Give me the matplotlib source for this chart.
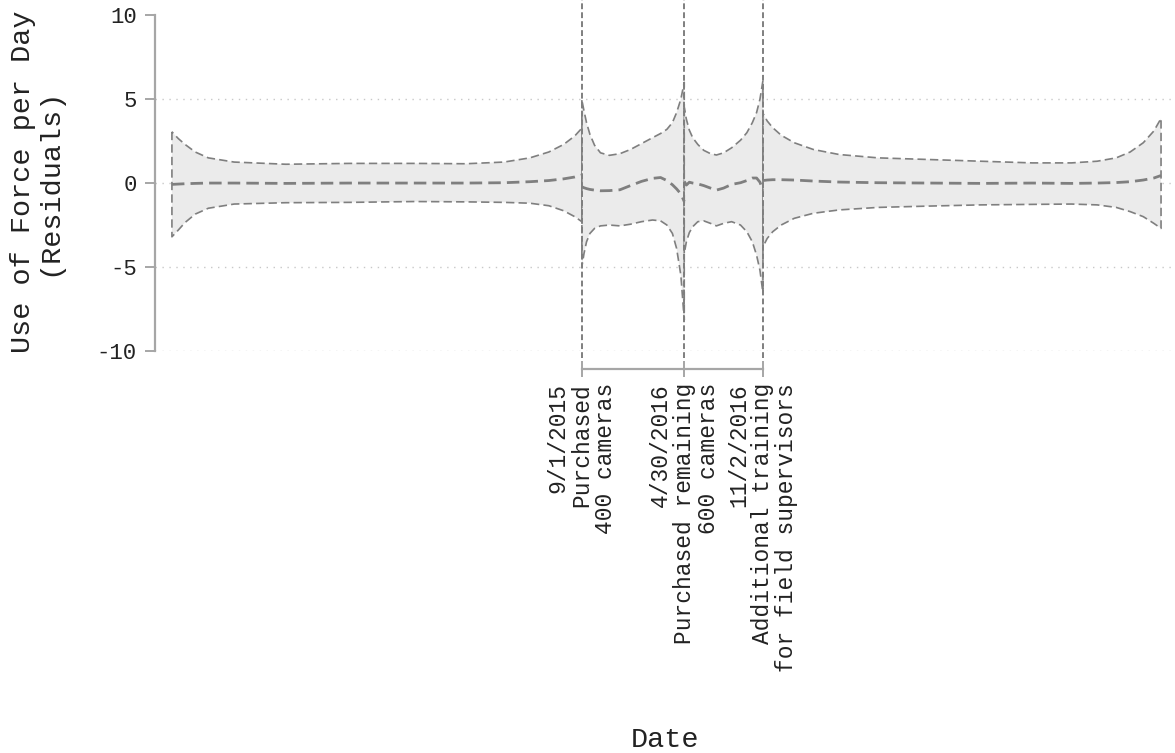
import numpy as np
import pandas as pd
import matplotlib
matplotlib.use("Agg")
import matplotlib.pyplot as plt
import matplotlib.dates as mdates

plt.rcParams['font.family'] = ['Liberation Mono', 'DejaVu Sans Mono']

# Residual band: one segment per period between interventions
seg1_dates = ['2013-01-05', '2013-01-20', '2013-02-05', '2013-03-01', '2013-04-01',
              '2013-06-01', '2013-10-01', '2014-03-01', '2014-08-01', '2014-12-01',
              '2015-03-01', '2015-05-01', '2015-06-15', '2015-07-20', '2015-08-15',
              '2015-09-01']
seg1_upper = [3.05, 2.65, 2.3, 1.85, 1.5, 1.25, 1.12, 1.17, 1.17, 1.15,
              1.25, 1.5, 1.85, 2.3, 2.8, 3.27]
seg1_mid = [-0.08, -0.06, -0.04, -0.02, 0.0, 0.0, -0.02, 0.0, 0.0, 0.0,
            0.02, 0.08, 0.15, 0.25, 0.36, 0.48]
seg1_lower = [-3.2, -2.8, -2.35, -1.85, -1.5, -1.25, -1.17, -1.15, -1.1, -1.12,
              -1.15, -1.2, -1.35, -1.65, -2.0, -2.3]

seg2_dates = ['2015-09-01', '2015-09-06', '2015-09-12', '2015-09-20', '2015-10-01',
              '2015-10-15', '2015-11-05', '2015-11-30', '2015-12-25', '2016-01-20',
              '2016-02-15', '2016-03-05', '2016-03-20', '2016-04-02', '2016-04-12',
              '2016-04-22', '2016-04-30']
seg2_upper = [4.94, 4.3, 3.6, 2.9, 2.25, 1.8, 1.65, 1.75, 2.0, 2.35,
              2.7, 2.95, 3.2, 3.6, 4.2, 5.0, 6.0]
seg2_mid = [-0.22, -0.28, -0.33, -0.38, -0.42, -0.46, -0.45, -0.4, -0.15, 0.1,
            0.28, 0.33, 0.15, -0.1, -0.35, -0.65, -1.1]
seg2_lower = [-4.98, -4.2, -3.5, -3.0, -2.7, -2.55, -2.5, -2.55, -2.45, -2.3,
              -2.2, -2.25, -2.5, -3.0, -3.9, -5.5, -8.15]

seg3_dates = ['2016-04-30', '2016-05-05', '2016-05-12', '2016-05-20', '2016-06-01',
              '2016-06-15', '2016-07-01', '2016-07-15', '2016-08-01', '2016-08-20',
              '2016-09-10', '2016-09-25', '2016-10-08', '2016-10-18', '2016-10-26',
              '2016-11-02']
seg3_upper = [4.5, 3.8, 3.15, 2.7, 2.3, 1.95, 1.75, 1.67, 1.8, 2.1,
              2.55, 3.0, 3.6, 4.2, 5.0, 6.1]
seg3_mid = [0.1, -0.12, 0.05, 0.0, -0.05, -0.15, -0.3, -0.42, -0.3, -0.08,
            0.02, 0.15, 0.3, 0.3, 0.05, -0.44]
seg3_lower = [-4.2, -3.5, -2.95, -2.6, -2.3, -2.25, -2.4, -2.55, -2.4, -2.3,
              -2.5, -2.9, -3.5, -4.3, -5.2, -6.55]

seg4_dates = ['2016-11-02', '2016-11-12', '2016-11-25', '2016-12-15', '2017-01-15',
              '2017-03-01', '2017-05-01', '2017-08-01', '2017-12-01', '2018-04-01',
              '2018-08-01', '2018-11-01', '2019-01-01', '2019-02-15', '2019-03-20',
              '2019-04-20', '2019-05-15', '2019-06-01']
seg4_upper = [4.15, 3.7, 3.3, 2.85, 2.4, 2.0, 1.7, 1.5, 1.4, 1.3,
              1.2, 1.2, 1.3, 1.5, 1.85, 2.4, 3.1, 3.85]
seg4_mid = [0.15, 0.18, 0.2, 0.2, 0.18, 0.12, 0.06, 0.02, 0.0, -0.02,
            0.0, -0.02, 0.0, 0.03, 0.08, 0.18, 0.3, 0.45]
seg4_lower = [-3.8, -3.3, -2.9, -2.5, -2.1, -1.8, -1.6, -1.45, -1.37, -1.3,
              -1.27, -1.25, -1.3, -1.45, -1.7, -2.0, -2.4, -2.7]

segments = [
    (seg1_dates, seg1_upper, seg1_mid, seg1_lower),
    (seg2_dates, seg2_upper, seg2_mid, seg2_lower),
    (seg3_dates, seg3_upper, seg3_mid, seg3_lower),
    (seg4_dates, seg4_upper, seg4_mid, seg4_lower),
]

event_dates = ['2015-09-01', '2016-04-30', '2016-11-02']
event_labels = ['9/1/2015\nPurchased\n400 cameras',
                '4/30/2016\nPurchased remaining\n600 cameras',
                '11/2/2016\nAdditional training\nfor field supervisors']

y_ticks = [-10, -5, 0, 5, 10]

gris = '#7f7f7f'
eje = '#a6a6a6'
texto = '#222222'

fig = plt.figure(figsize=(11.75, 7.53), dpi=100)
ax = fig.add_axes([155 / 1175, 402 / 753, 1020 / 1175, 351 / 753])

for fechas, sup, med, inf in segments:
    x = mdates.date2num(pd.to_datetime(fechas))
    ax.fill_between(x, inf, sup, facecolor='#ebebeb', edgecolor=gris,
                    linewidth=1.2, linestyle=(0, (5, 2.5)), zorder=2)
    ax.plot(x, med, color=gris, linewidth=2.0, linestyle=(0, (4.5, 2.2)), zorder=3)

eventos = mdates.date2num(pd.to_datetime(event_dates))
for d in eventos:
    ax.axvline(d, ymin=-0.02, ymax=1, color=gris, linewidth=1.4,
               linestyle=(0, (3, 1.6)), clip_on=False, zorder=4)

# grilla punteada solo hasta 5
for v in y_ticks[:-1]:
    ax.axhline(v, color='#c8c8c8', linewidth=1.0, linestyle=(0, (1, 4)), zorder=1)

ax.set_xlim(mdates.date2num(pd.Timestamp('2012-11-26')),
            mdates.date2num(pd.Timestamp('2019-07-04')))
ax.set_ylim(-10, 10.9)

for s in ['top', 'right']:
    ax.spines[s].set_visible(False)
ax.spines['left'].set_bounds(-10, 10)
ax.spines['left'].set_color(eje)
ax.spines['left'].set_linewidth(1.6)
ax.spines['bottom'].set_position(('outward', 13))
ax.spines['bottom'].set_bounds(eventos[0], eventos[-1])
ax.spines['bottom'].set_color(eje)
ax.spines['bottom'].set_linewidth(1.6)

ax.tick_params(axis='y', direction='out', length=7, width=1.4, color=eje,
               labelsize=16, pad=6, labelcolor=texto)
ax.tick_params(axis='x', direction='inout', length=12, width=1.4, color=eje,
               labelsize=16.5, pad=4, labelcolor=texto)

ax.set_yticks(y_ticks)
ax.set_yticklabels([str(v) for v in y_ticks])
ax.set_xticks(eventos)
ax.set_xticklabels(event_labels)
for lab in ax.get_xticklabels():
    lab.set_rotation(90)
    lab.set_multialignment('right')
    lab.set_linespacing(1.05)

ax.set_ylabel('Use of Force per Day\n(Residuals)', fontsize=20.5, linespacing=1.0,
              color=texto)
ax.yaxis.set_label_coords(-0.091, 0.481)
ax.set_xlabel('Date', fontsize=20.5, color=texto)
ax.xaxis.set_label_coords(0.5, -1.07)

fig.savefig('out.png', dpi=100)
